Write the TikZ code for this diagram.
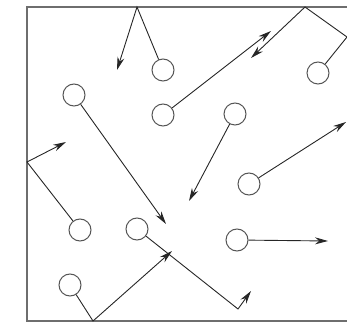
\documentclass[tikz,border=0pt]{standalone}
\usetikzlibrary{arrows.meta}
\definecolor{wallc}{HTML}{6E6E6E}
\definecolor{ballc}{HTML}{555555}

\begin{document}
\begin{tikzpicture}[x=1pt,y=-1pt,
      ball/.style={circle,draw=ballc,line width=1pt,minimum size=22pt,inner sep=0pt},
      mv/.style={draw=black!85,line width=0.9pt,-{Stealth[length=13pt,width=7pt]}},
      wall/.style={draw=wallc,line width=2pt}]
    \useasboundingbox (0,0) rectangle (347,328);
    % container walls
    \draw[wall] (347,7) -- (27,7) -- (27,321) -- (347,321);
    % particles
    \foreach \n/\x/\y in {p1/163/70,p2/74/95,p3/163/115,p4/235/114,p5/249/184,
        p6/80/230,p7/137/229,p8/318/73,p9/70/285,p10/237/240}{
      \node[ball](\n) at (\x,\y){};}
    % bounce points and arrow ends
    \coordinate (w1) at (137,7);   \coordinate (e1) at (117,70);
    \coordinate (e2) at (166,224);
    \coordinate (e3) at (271,31);
    \coordinate (e4) at (189,201);
    \coordinate (e5) at (346,122);
    \coordinate (w6) at (27,162);  \coordinate (e6) at (66,142);
    \coordinate (w7) at (238,309); \coordinate (e7) at (251,291);
    \coordinate (w8a) at (347,37); \coordinate (w8b) at (305,7); \coordinate (e8) at (251,58);
    \coordinate (w9) at (93,321);  \coordinate (e9) at (172,251);
    \coordinate (e10) at (328,241);
    % paths
    \draw[mv] (p1) -- (w1) -- (e1);
    \draw[mv] (p2) -- (e2);
    \draw[mv] (p3) -- (e3);
    \draw[mv] (p4) -- (e4);
    \draw[mv] (p5) -- (e5);
    \draw[mv] (p6) -- (w6) -- (e6);
    \draw[mv] (p7) -- (w7) -- (e7);
    \draw[mv] (p8) -- (w8a) -- (w8b) -- (e8);
    \draw[mv] (p9) -- (w9) -- (e9);
    \draw[mv] (p10) -- (e10);
  \end{tikzpicture}
\end{document}
